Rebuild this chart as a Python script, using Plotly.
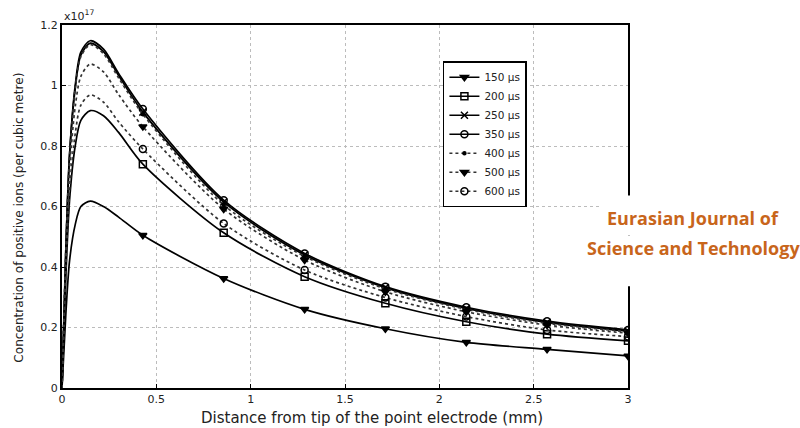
import plotly.graph_objects as go

# ---- data ----
x = [0, 0.02, 0.04, 0.07, 0.1, 0.15, 0.22, 0.3, 0.4286, 0.857, 1.286, 1.714, 2.143, 2.571, 3.0]
marker_idx = [8, 9, 10, 11, 12, 13, 14]

labels = ["150 µs", "200 µs", "250 µs", "350 µs", "400 µs", "500 µs", "600 µs"]
y150 = [0, 0.24, 0.42, 0.54, 0.60, 0.618, 0.600, 0.565, 0.505, 0.362, 0.260, 0.196, 0.151, 0.128, 0.106]
y200 = [0, 0.36, 0.62, 0.80, 0.885, 0.917, 0.900, 0.845, 0.740, 0.513, 0.368, 0.280, 0.219, 0.178, 0.156]
y250 = [0, 0.45, 0.77, 0.99, 1.100, 1.140, 1.112, 1.033, 0.912, 0.615, 0.440, 0.332, 0.263, 0.217, 0.188]
y350 = [0, 0.45, 0.77, 1.00, 1.110, 1.148, 1.120, 1.040, 0.922, 0.621, 0.445, 0.335, 0.267, 0.221, 0.192]
y400 = [0, 0.45, 0.76, 0.99, 1.095, 1.135, 1.105, 1.025, 0.905, 0.605, 0.435, 0.328, 0.260, 0.214, 0.186]
y500 = [0, 0.42, 0.72, 0.93, 1.030, 1.071, 1.045, 0.970, 0.864, 0.592, 0.423, 0.318, 0.252, 0.208, 0.181]
y600 = [0, 0.38, 0.65, 0.84, 0.935, 0.969, 0.945, 0.880, 0.790, 0.544, 0.390, 0.299, 0.236, 0.192, 0.170]
series = [y150, y200, y250, y350, y400, y500, y600]

dashes = ["solid", "solid", "solid", "solid", "dot", "dot", "dot"]
symbols = ["triangle-down", "square-open", "x-thin-open", "circle-open", "circle", "triangle-down", "circle-open"]
msizes = [7, 7, 7, 7, 3, 7, 7]

x_ticks = [0, 0.5, 1, 1.5, 2, 2.5, 3]
x_ticklabels = ["0", "0.5", "1", "1.5", "2", "2.5", "3"]
y_ticks = [0, 0.2, 0.4, 0.6, 0.8, 1.0, 1.2]
y_ticklabels = ["0", "0.2", "0.4", "0.6", "0.8", "1", "1.2"]

fig = go.Figure()
FONT = "DejaVu Sans"
for lab, ys, dsh, sym, ms in zip(labels, series, dashes, symbols, msizes):
    lc = "black" if dsh == "solid" else "#333333"
    fig.add_trace(go.Scatter(x=x, y=ys, mode="lines", line=dict(color=lc, width=1.7, dash=dsh, shape="spline", smoothing=0.8),
                             showlegend=False, hoverinfo="skip"))
    fig.add_trace(go.Scatter(x=[x[i] for i in marker_idx], y=[ys[i] for i in marker_idx], mode="markers",
                             marker=dict(symbol=sym, size=ms, color="black", line=dict(color="black", width=1.5)),
                             showlegend=False))
    fig.add_trace(go.Scatter(x=[None], y=[None], mode="lines+markers", name=lab,
                             line=dict(color=lc, width=1.6, dash=dsh),
                             marker=dict(symbol=sym, size=ms, color="black", line=dict(color="black", width=1.5))))

fig.update_layout(
    width=800, height=428,
    margin=dict(l=62, r=172, t=25, b=40),
    paper_bgcolor="white", plot_bgcolor="white",
    font=dict(family=FONT, color="#222222", size=11),
    showlegend=True,
    legend=dict(x=0.673, y=0.9, xanchor="left", yanchor="top", bgcolor="white",
                bordercolor="black", borderwidth=1.5, font=dict(size=10.5, family=FONT),
                tracegroupgap=0, itemwidth=30),
    xaxis=dict(range=[0, 3], tickvals=x_ticks, ticktext=x_ticklabels, showgrid=True,
               gridcolor="#bcbcbc", griddash="dot", gridwidth=1, zeroline=False,
               showline=True, linecolor="black", linewidth=2, mirror=True,
               ticks="inside", ticklen=4, tickcolor="black"),
    yaxis=dict(range=[0, 1.2], tickvals=y_ticks, ticktext=y_ticklabels, showgrid=True,
               gridcolor="#bcbcbc", griddash="dot", gridwidth=1, zeroline=False,
               showline=True, linecolor="black", linewidth=2, mirror=True,
               ticks="inside", ticklen=4, tickcolor="black"),
)

# axis titles as annotations (positioned as in the reference)
fig.add_annotation(text="Distance from tip of the point electrode (mm)", xref="paper", yref="paper",
                   x=0.548, y=-0.083, xanchor="center", yanchor="middle", showarrow=False,
                   font=dict(size=15, family=FONT, color="#222222"))
fig.add_annotation(text="Concentration of positive ions (per cubic metre)", xref="paper", yref="paper",
                   x=-0.075, y=0.468, xanchor="center", yanchor="middle", textangle=-90, showarrow=False,
                   font=dict(size=12.1, family=FONT, color="#222222"))

fig.add_annotation(text="x10<sup>17</sup>", xref="paper", yref="paper", x=0, y=1,
                   xanchor="left", yanchor="bottom", showarrow=False, font=dict(size=11))

# watermark with white background
fig.add_shape(type="rect", xref="paper", yref="paper", x0=0.953, x1=1.35, y0=0.42, y1=0.53,
              fillcolor="white", line=dict(width=0), layer="above")
fig.add_shape(type="rect", xref="paper", yref="paper", x0=0.875, x1=1.35, y0=0.28, y1=0.42,
              fillcolor="white", line=dict(width=0), layer="above")
fig.add_annotation(text="<b>Eurasian Journal of</b>", xref="paper", yref="paper", x=1.115, y=0.469,
                   xanchor="center", yanchor="middle",
                   showarrow=False, font=dict(size=18, color="#c8651b", family="Open Sans"))
fig.add_annotation(text="<b>Science and Technology</b>", xref="paper", yref="paper", x=1.115, y=0.386,
                   xanchor="center", yanchor="middle",
                   showarrow=False, font=dict(size=18, color="#c8651b", family="Open Sans"))

fig.write_html("out.html")
